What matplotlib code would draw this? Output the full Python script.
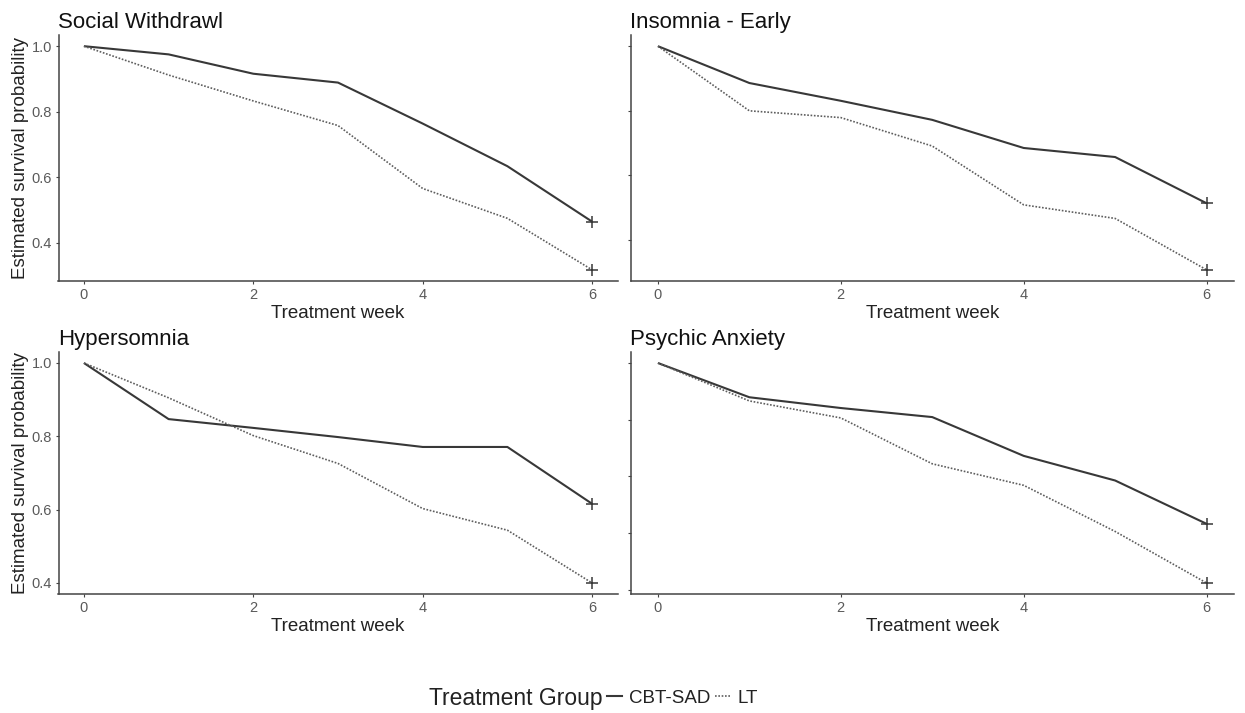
import numpy as np
import matplotlib
matplotlib.use("Agg")
import matplotlib.pyplot as plt
from matplotlib.lines import Line2D

plt.rcParams["font.family"] = ["Liberation Sans", "DejaVu Sans"]

# Data
weeks = [0, 1, 2, 3, 4, 5, 6]
panel_titles = ["Social Withdrawl", "Insomnia - Early", "Hypersomnia", "Psychic Anxiety"]
cbt_social = [1.0, 0.975, 0.916, 0.889, 0.764, 0.634, 0.465]
lt_social = [1.0, 0.912, 0.833, 0.758, 0.566, 0.475, 0.318]
cbt_insomnia = [1.0, 0.886, 0.831, 0.772, 0.685, 0.657, 0.514]
lt_insomnia = [1.0, 0.800, 0.779, 0.691, 0.509, 0.467, 0.308]
cbt_hyper = [1.0, 0.847, 0.823, 0.798, 0.771, 0.771, 0.616]
lt_hyper = [1.0, 0.905, 0.802, 0.726, 0.603, 0.544, 0.400]
cbt_anxiety = [1.0, 0.879, 0.841, 0.809, 0.672, 0.585, 0.432]
lt_anxiety = [1.0, 0.866, 0.806, 0.644, 0.568, 0.405, 0.223]
group_labels = ["CBT-SAD", "LT"]
x_ticks = [0, 2, 4, 6]
y_ticks_top = [0.4, 0.6, 0.8, 1.0]
y_ticks_bottom_left = [0.4, 0.6, 0.8, 1.0]
y_ticks_bottom_right = [0.2, 0.4, 0.6, 0.8, 1.0]

W, H = 1245, 713
fig = plt.figure(figsize=(W / 100, H / 100), dpi=100)

def box(l, r, t, b):
    return [l / W, 1 - b / H, (r - l) / W, (b - t) / H]

positions = [
    box(58.5, 617.5, 35, 281),
    box(630.5, 1234, 35, 281),
    box(58.5, 617.5, 352, 594),
    box(630.5, 1234, 352, 594),
]
series = [(cbt_social, lt_social), (cbt_insomnia, lt_insomnia),
          (cbt_hyper, lt_hyper), (cbt_anxiety, lt_anxiety)]
yticks = [y_ticks_top, y_ticks_top, y_ticks_bottom_left, y_ticks_bottom_right]

solid_col = "#383838"
dot_col = "#5e5e5e"
axis_col = "#444444"

for i, (pos, (cbt, lt)) in enumerate(zip(positions, series)):
    ax = fig.add_axes(pos)
    ax.plot(weeks, cbt, color=solid_col, lw=1.5, solid_capstyle="butt")
    ax.plot(weeks, lt, color=dot_col, lw=1.2, linestyle=(0, (1, 1)))
    ax.plot(weeks[-1], cbt[-1], marker="+", ms=9, mew=1.1, color=solid_col)
    ax.plot(weeks[-1], lt[-1], marker="+", ms=9, mew=1.1, color=solid_col)
    ax.margins(x=0.05, y=0.05)

    for s in ["top", "right"]:
        ax.spines[s].set_visible(False)
    for s in ["left", "bottom"]:
        ax.spines[s].set_color(axis_col)
        ax.spines[s].set_linewidth(1.1)

    ax.set_xticks(x_ticks)
    ax.set_yticks(yticks[i])
    ax.tick_params(axis="both", colors=axis_col, length=2.5, width=0.8,
                   labelsize=10.5, labelcolor="#5a5a5a")
    ax.tick_params(axis="x", pad=2.5)
    ax.tick_params(axis="y", pad=2)
    ax.set_yticklabels([f"{v:.1f}" for v in yticks[i]])
    if i % 2 == 1:
        ax.set_yticklabels([])
    else:
        ax.set_ylabel("Estimated survival probability", fontsize=13.5,
                      color="#222222", labelpad=2)
    ax.set_xlabel("Treatment week", fontsize=13.5, color="#222222", labelpad=2)
    ax.set_title(panel_titles[i], loc="left", fontsize=16, color="#111111", pad=5)

# legend along the bottom
fig.text(603 / W, 1 - 698 / H, "Treatment Group", fontsize=16.5, color="#222222",
         ha="right", va="center")
handles = [Line2D([], [], color=solid_col, lw=1.5),
           Line2D([], [], color=dot_col, lw=1.2, linestyle=(0, (1, 1)))]
fig.legend(handles, group_labels, loc="center left", bbox_to_anchor=(607 / W, 1 - 698 / H),
           ncol=2, frameon=False, fontsize=13.5, handlelength=0.8, handletextpad=0.37,
           columnspacing=0.27, borderpad=0, borderaxespad=0, labelcolor="#222222")

fig.savefig("out.png", dpi=100)
